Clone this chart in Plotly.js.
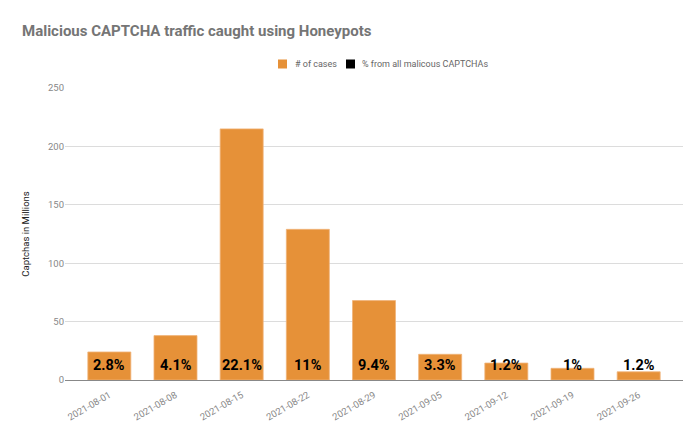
<!DOCTYPE html>
<html>
<head>
<meta charset="utf-8">
<script src="https://cdn.plot.ly/plotly-3.0.1.min.js"></script>
<style>html,body{margin:0;padding:0;background:#fff;}#chart{width:700px;height:433px;}</style>
</head>
<body>
<div id="chart"></div>
<script>
const categories = ["2021-08-01","2021-08-08","2021-08-15","2021-08-22","2021-08-29","2021-09-05","2021-09-12","2021-09-19","2021-09-26"];
const cases = [24, 38, 215, 129, 68, 22, 14.5, 10, 7];
const pctLabels = ["2.8%","4.1%","22.1%","11%","9.4%","3.3%","1.2%","1%","1.2%"];
const seriesNames = ["# of cases", "% from all malicous CAPTCHAs"];
const seriesColors = ["#e69138", "#000000"];

const traces = [
  {type:'bar', x:categories, y:cases, name:seriesNames[0], marker:{color:seriesColors[0], line:{color:'#f0b47a', width:0.8}}, showlegend:false},
  {type:'bar', x:categories, y:categories.map(()=>null), name:seriesNames[1], marker:{color:seriesColors[1]}, showlegend:false}
];

const annotations = categories.map((c,i)=>({
  x:c, y:0, xref:'x', yref:'y', text:pctLabels[i], showarrow:false,
  yanchor:'middle', yshift:14.5,
  font:{family:'Roboto, sans-serif', size:14.5, color:'#000', weight:'bold'}
}));

// custom legend (pixel layout converted to container fractions)
const W = 700, H = 433;
const legendItems = [
  {sq:[278,287], tx:293},
  {sq:[346,355], tx:360}
];
const legendY = 64;
const shapes = legendItems.map((it,i)=>({
  type:'rect', xref:'paper', yref:'paper',
  x0:(it.sq[0]-65)/618, x1:(it.sq[1]-65)/618,
  y0:(380-legendY+4.5)/292, y1:(380-legendY-4.5)/292,
  fillcolor:seriesColors[i], line:{width:0}
}));
legendItems.forEach((it,i)=>annotations.push({
  xref:'paper', yref:'paper', x:(it.tx-65)/618, y:(380-legendY)/292,
  xanchor:'left', yanchor:'middle', showarrow:false, text:seriesNames[i],
  font:{family:'Roboto, sans-serif', size:9, color:'#666'}
}));

const layout = {
  width:W, height:H,
  margin:{l:65, r:17, t:88, b:53},
  paper_bgcolor:'#fff', plot_bgcolor:'#fff',
  font:{family:'Roboto, sans-serif', color:'#444'},
  title:{text:'<b>Malicious CAPTCHA traffic caught using Honeypots</b>', x:22/W, xanchor:'left', xref:'container', y:1-31/H, yref:'container', yanchor:'middle', font:{family:'Roboto, sans-serif', size:15, color:'#757575'}},
  barmode:'overlay', bargap:0.35,
  showlegend:false,
  xaxis:{type:'category', range:[-0.67, 8.67], tickangle:-30, tickfont:{size:9.5, color:'#888'}, showline:true, linecolor:'#888', linewidth:1, ticks:'', showgrid:false, ticklabelstandoff:5},
  yaxis:{range:[0,250], tickvals:[0,50,100,150,200,250], tickfont:{size:9.5, color:'#888'}, gridcolor:'#dcdcdc', zeroline:false, ticks:'',
         title:{text:'Captchas in Millions', font:{size:9.5, color:'#222'}, standoff:16}},
  shapes:shapes,
  annotations:annotations
};

Plotly.newPlot('chart', traces, layout, {displayModeBar:false, staticPlot:true});
</script>
</body>
</html>
